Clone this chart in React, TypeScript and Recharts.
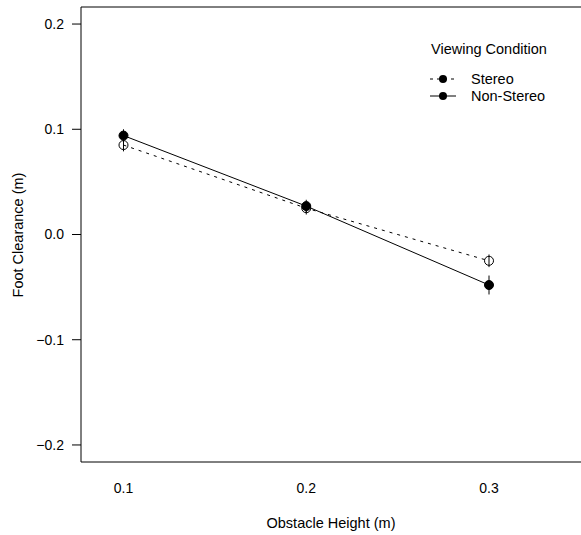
import React from "react";
import {
  LineChart,
  Line,
  XAxis,
  YAxis,
  ErrorBar,
  ReferenceLine,
  Legend,
  Label,
} from "recharts";

const obstacleHeights = [0.1, 0.2, 0.3];
const stereoMeans = [0.085, 0.025, -0.025];
const stereoErrors = [0.006, 0.006, 0.006];
const nonStereoMeans = [0.094, 0.027, -0.048];
const nonStereoErrors = [0.006, 0.006, 0.009];
const yTicks = [-0.2, -0.1, 0.0, 0.1, 0.2];
const xTicks = [0.1, 0.2, 0.3];
const seriesNames = ["Stereo", "Non-Stereo"];
const legendTitle = "Viewing Condition";

const stereoData = obstacleHeights.map((h, i) => ({
  height: h,
  value: stereoMeans[i],
  err: stereoErrors[i],
}));
const nonStereoData = obstacleHeights.map((h, i) => ({
  height: h,
  value: nonStereoMeans[i],
  err: nonStereoErrors[i],
}));

const FONT = "'Liberation Sans', Arial, Helvetica, sans-serif";
const X_DOMAIN: [number, number] = [0.07675, 0.35034];
const Y_DOMAIN: [number, number] = [-0.2162, 0.2162];

const fmt = (v: number) => {
  const s = Math.abs(v).toFixed(1);
  return v < -1e-9 ? "\u2212" + s : s;
};

const OpenDot = (props: any) => {
  const { cx, cy } = props;
  if (cx == null || cy == null) return null;
  return <circle cx={cx} cy={cy} r={4.5} fill="none" stroke="#000" strokeWidth={1} />;
};

const FilledDot = (props: any) => {
  const { cx, cy } = props;
  if (cx == null || cy == null) return null;
  return <circle cx={cx} cy={cy} r={4.5} fill="#000" stroke="#000" strokeWidth={1} />;
};

const renderLegend = () => (
  <svg width={150} height={70} style={{ display: "block" }}>
    <text x={6} y={11} dominantBaseline="central" fontFamily={FONT} fontSize={14.5} fill="#000">
      {legendTitle}
    </text>
    <line x1={5} x2={31} y1={41} y2={41} stroke="#000" strokeDasharray="3 4" />
    <circle cx={18} cy={41} r={4} fill="#000" />
    <text x={46} y={41} dominantBaseline="central" fontFamily={FONT} fontSize={14.5} fill="#000">
      {seriesNames[0]}
    </text>
    <line x1={5} x2={31} y1={58} y2={58} stroke="#000" />
    <circle cx={18} cy={58} r={4} fill="#000" />
    <text x={46} y={58} dominantBaseline="central" fontFamily={FONT} fontSize={14.5} fill="#000">
      {seriesNames[1]}
    </text>
  </svg>
);

export default function App() {
  return (
    <div style={{ position: "absolute", left: 0, top: 0, fontFamily: FONT }}>
      <LineChart width={581} height={535} margin={{ top: 7, right: 0, bottom: 0, left: 0 }}>
        <XAxis
          type="number"
          dataKey="height"
          domain={X_DOMAIN}
          allowDataOverflow
          ticks={xTicks}
          tickFormatter={fmt}
          height={73}
          tickLine={false}
          tickSize={0}
          tickMargin={21}
          axisLine={{ stroke: "#000", strokeWidth: 1 }}
          tick={{ fill: "#000", fontSize: 14, fontFamily: FONT }}
          label={{
            value: "Obstacle Height (m)",
            position: "insideBottom",
            offset: 7,
            fill: "#000",
            fontSize: 14.5,
            fontFamily: FONT,
          }}
        />
        <YAxis
          type="number"
          domain={Y_DOMAIN}
          allowDataOverflow
          ticks={yTicks}
          tickFormatter={fmt}
          width={81}
          tickSize={9}
          tickMargin={8}
          tickLine={{ stroke: "#000" }}
          axisLine={{ stroke: "#000", strokeWidth: 1 }}
          tick={{ fill: "#000", fontSize: 14, fontFamily: FONT }}
        >
          <Label
            content={() => (
              <text
                x={18}
                y={235}
                transform="rotate(-90 18 235)"
                textAnchor="middle"
                dominantBaseline="central"
                fontFamily={FONT}
                fontSize={14.5}
                fill="#000"
              >
                Foot Clearance (m)
              </text>
            )}
          />
        </YAxis>
        <ReferenceLine y={Y_DOMAIN[1]} stroke="#000" strokeWidth={1} ifOverflow="visible" />
        <Legend
          layout="vertical"
          align="center"
          verticalAlign="middle"
          content={renderLegend}
          wrapperStyle={{ position: "absolute", left: 425, top: 38, width: 150, height: 70 }}
        />
        <Line
          data={stereoData}
          dataKey="value"
          name={seriesNames[0]}
          stroke="#000"
          strokeWidth={1}
          strokeDasharray="3 5"
          dot={<OpenDot />}
          activeDot={false}
          isAnimationActive={false}
        >
          <ErrorBar dataKey="err" width={0} stroke="#000" strokeWidth={1} direction="y" />
        </Line>
        <Line
          data={nonStereoData}
          dataKey="value"
          name={seriesNames[1]}
          stroke="#000"
          strokeWidth={1}
          dot={<FilledDot />}
          activeDot={false}
          isAnimationActive={false}
        >
          <ErrorBar dataKey="err" width={0} stroke="#000" strokeWidth={1} direction="y" />
        </Line>
      </LineChart>
    </div>
  );
}
